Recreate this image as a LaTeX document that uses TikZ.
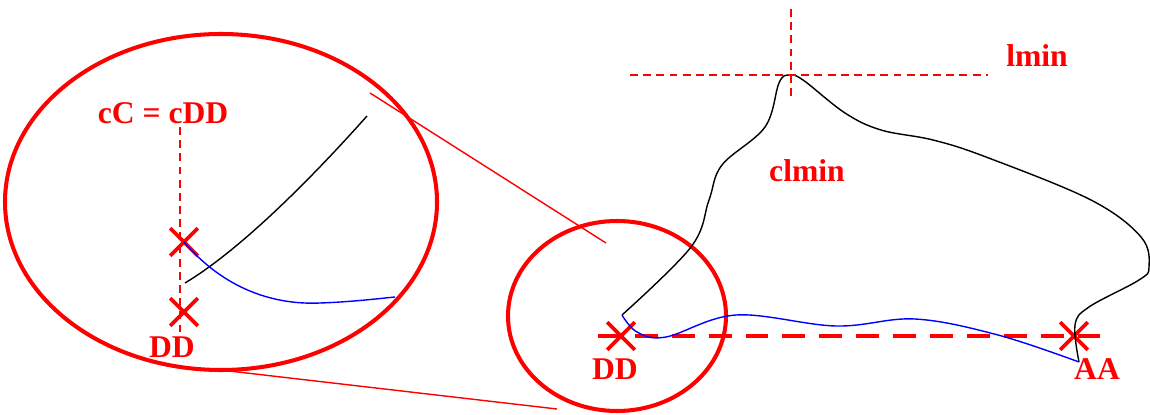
\documentclass[tikz,border=0pt]{standalone}
\usepackage{fontspec}
\setmainfont{Liberation Serif}
\usepackage{tikz}
\usetikzlibrary{shapes.misc}
\tikzset{
  lbl/.style={text=red,font=\bfseries\fontsize{18}{21}\selectfont,inner sep=0pt},
  xmark/.style={cross out,draw=red,line width=2.2pt,minimum size=13.5pt,inner sep=0pt},
  zoomring/.style={red,line width=2.3pt},
  guide/.style={red,line width=0.6pt,dash pattern=on 4.5pt off 3pt},
  trace/.style={line width=0.8pt},
}

\begin{document}
\begin{tikzpicture}[x=0.02cm,y=-0.02cm]
  \useasboundingbox (0,0) rectangle (1150,415);
  % zoomed view of the start point
  \draw[zoomring] (221,202) ellipse [x radius=216, y radius=168];
  \coordinate (zt) at (370,93); \coordinate (zb) at (212,369);
  \coordinate (ct) at (606,243); \coordinate (cb) at (557,409);
  \draw[red,line width=0.8pt] (zt) -- (ct);
  \draw[red,line width=0.8pt] (zb) -- (cb);
  \node[lbl] (cc) at (163,113) {cC = cDD};
  \node[xmark] (c1) at (184,242) {};
  \node[xmark] (d1) at (184,312) {};
  \node[lbl] (ddl) at (172,347) {DD};
  \draw[guide] (180,127) -- (180,332);
  \draw[trace] (185,283) .. controls (240,250) and (310,180) .. (367,116);
  \draw[trace,blue] (c1.center) .. controls (225,290) and (275,305) .. (320,303)
    .. controls (350,302) and (375,299) .. (395,297);
  % full contour
  \draw[zoomring] (617,316) ellipse [x radius=109, y radius=95];
  \draw[red,line width=2.8pt,dash pattern=on 13pt off 8pt] (598,336) -- (1102,336);
  \node[xmark] (dd) at (621,336) {};
  \node[xmark] (aa) at (1074,336) {};
  \node[lbl] (ddr) at (615,369) {DD};
  \node[lbl] (aal) at (1097,369) {AA};
  \draw[trace] plot[smooth,tension=0.6] coordinates {(622,315) (691,247) (709,200) (722,165)
    (765,127) (779,83) (789,75) (803,80) (845,113) (881,130) (933,140)
    (986,157) (1091,200) (1141,237) (1149,267) (1139,280) (1089,307) (1075,325) (1079,362)};
  \draw[trace,blue] plot[smooth,tension=0.6] coordinates {(622,315) (637,332) (666,337)
    (736,315) (836,326) (915,319) (998,335) (1079,362)};
  \draw[guide] (630,75) -- (988,75);
  \draw[guide] (791,9) -- (791,100);
  \node[lbl] (lm) at (1037,56) {lmin};
  \node[lbl] (clm) at (807,171) {clmin};
\end{tikzpicture}
\end{document}
